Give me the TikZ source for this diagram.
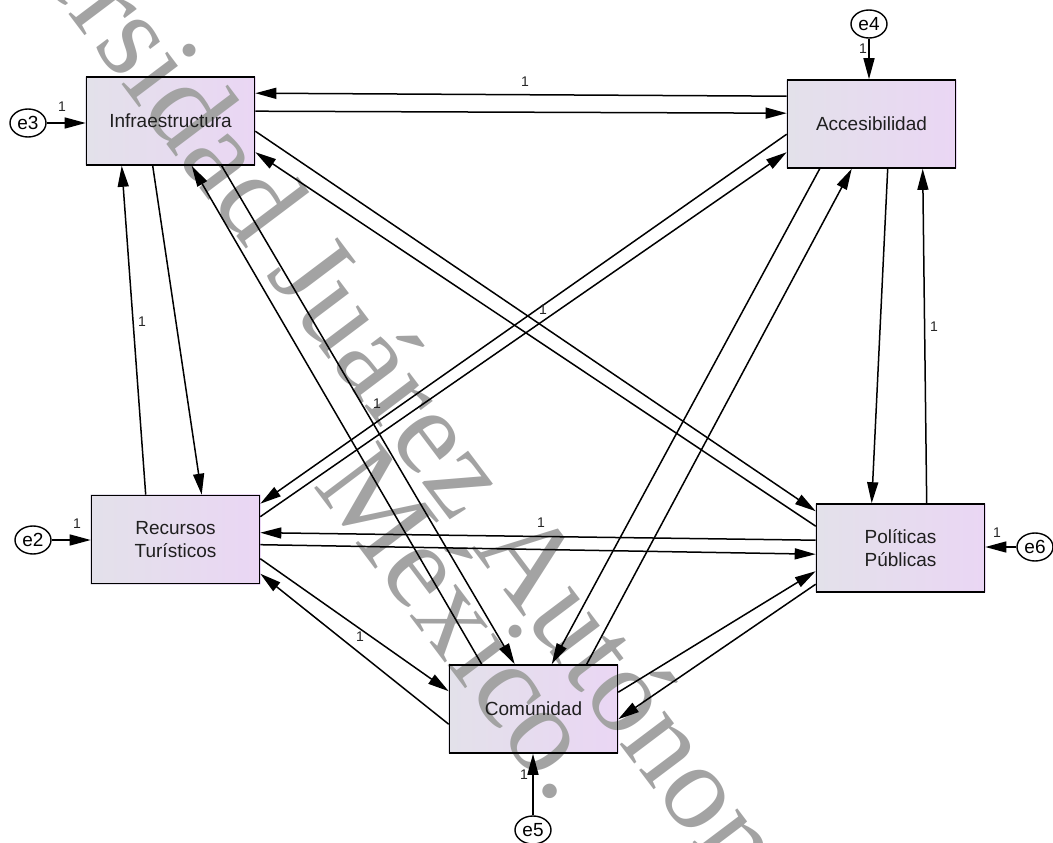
\documentclass[tikz,border=0pt]{standalone}
\usepackage{fontspec}
\setmainfont{Liberation Sans}
\newfontfamily\wmfont{Liberation Serif}
\usetikzlibrary{arrows.meta,calc,shapes.geometric}
\definecolor{boxL}{HTML}{E3E1EA}
\definecolor{boxR}{HTML}{EAD6F4}
\definecolor{wmgray}{gray}{0.64}
\pgfdeclarelayer{bg}
\pgfdeclarelayer{wmk}
\pgfsetlayers{bg,wmk,main}
\begin{document}
\begin{tikzpicture}[x=1pt,y=-1pt,
  box/.style={draw=black, line width=1.6pt,
    minimum width=168pt, minimum height=88pt, inner sep=0pt, align=center,
    font=\fontsize{19}{23}\selectfont, text=black!88},
  boxfill/.style={left color=boxL, right color=boxR},
  err/.style={draw=black, line width=1.4pt, ellipse, fill=white,
    minimum width=36pt, minimum height=28pt, inner sep=0pt,
    font=\fontsize{19}{22}\selectfont},
  conn/.style={line width=1.5pt, -{Triangle[length=21pt,width=11pt]}},
  one/.style={font=\fontsize{14}{16}\selectfont, inner sep=0pt, text=black!85},
  wm/.style={font=\wmfont\fontsize{122}{140}\selectfont, text=wmgray,
    inner sep=0pt, rotate=-53}
]
\useasboundingbox (0,0) rectangle (1053,843);

% boxes
\node[box] (inf) at (170.5,121) {Infraestructura};
\node[box] (acc) at (871.5,124) {Accesibilidad};
\node[box] (rec) at (175.5,539.5) {Recursos\\Turísticos};
\node[box] (pol) at (900.5,548) {Políticas\\Públicas};
\node[box] (com) at (533.5,709) {Comunidad};

\begin{pgfonlayer}{bg}
\foreach \n in {inf,acc,rec,pol,com}
  \shade[boxfill] (\n.north west) rectangle (\n.south east);
\end{pgfonlayer}

% watermark (under the lines and texts, above the box fills)
\begin{pgfonlayer}{wmk}
\begin{scope}
\clip (0,0) rectangle (1053,843);
\node[wm, anchor=base west] (wm1) at (-112,-226) {Universidad Juárez Autónoma de Tabasco.};
\node[wm, anchor=base west] (wm2) at (312,485) {México.};
\end{scope}
\end{pgfonlayer}

% error terms
\node[err] (e3) at (28,123) {e3};
\node[err] (e4) at (869,24) {e4};
\node[err] (e2) at (33,540) {e2};
\node[err] (e6) at (1035,547) {e6};
\node[err] (e5) at (533,830) {e5};

\draw[conn] (e3.east) -- (e3.east -| inf.west);
\draw[conn] (e4.south) -- (e4.south |- acc.north);
\draw[conn] (e2.east) -- (e2.east -| rec.west);
\draw[conn] (e6.west) -- (e6.west -| pol.east);
\draw[conn] (e5.north) -- (e5.north |- com.south);

% Infraestructura - Accesibilidad
\draw[conn] ($(acc.north west)+(0,17)$) -- ($(inf.north east)+(0,17)$);
\draw[conn] ($(inf.north east)+(0,35)$) -- ($(acc.north west)+(0,34)$);
% Infraestructura - Politicas
\draw[conn] ($(inf.north east)+(0,55)$) -- ($(pol.north west)+(0,8)$);
\draw[conn] ($(pol.north west)+(0,23)$) -- ($(inf.north east)+(0,76)$);
% Infraestructura - Recursos
\draw[conn] ($(rec.north west)+(55,0)$) -- ($(inf.south west)+(36,0)$);
\draw[conn] ($(inf.south west)+(67,0)$) -- ($(rec.north west)+(111,0)$);
% Infraestructura - Comunidad
\draw[conn] ($(com.north west)+(33,0)$) -- ($(inf.south west)+(106,0)$);
\draw[conn] ($(inf.south west)+(136,0)$) -- ($(com.north west)+(66,0)$);
% Accesibilidad - Recursos
\draw[conn] ($(acc.north west)+(0,55)$) -- ($(rec.north east)+(0,9)$);
\draw[conn] ($(rec.north east)+(0,22)$) -- ($(acc.north west)+(0,73)$);
% Accesibilidad - Comunidad
\draw[conn] ($(acc.south west)+(33,0)$) -- ($(com.north west)+(103,0)$);
\draw[conn] ($(com.north west)+(138,0)$) -- ($(acc.south west)+(65,0)$);
% Accesibilidad - Politicas
\draw[conn] ($(acc.south west)+(101,0)$) -- ($(pol.north west)+(56,0)$);
\draw[conn] ($(pol.north west)+(111,0)$) -- ($(acc.south west)+(136,0)$);
% Recursos - Politicas
\draw[conn] ($(pol.north west)+(0,37)$) -- ($(rec.north east)+(0,38)$);
\draw[conn] ($(rec.north east)+(0,50)$) -- ($(pol.north west)+(0,51)$);
% Recursos - Comunidad
\draw[conn] ($(rec.north east)+(0,64)$) -- ($(com.north west)+(0,27)$);
\draw[conn] ($(com.north west)+(0,60)$) -- ($(rec.north east)+(0,79)$);
% Comunidad - Politicas
\draw[conn] ($(com.north east)+(0,28)$) -- ($(pol.north west)+(0,68)$);
\draw[conn] ($(pol.north west)+(0,81)$) -- ($(com.north east)+(0,55)$);

% labels
\node[one] (l1) at (525,82) {1};
\node[one] (l2) at (142,322) {1};
\node[one] (l3) at (934,327) {1};
\node[one] (l4) at (543,310) {1};
\node[one] (l5) at (377,404) {1};
\node[one] (l6) at (541,523) {1};
\node[one] (l7) at (360,637) {1};
\node[one] (l8) at (62,107) {1};
\node[one] (l9) at (863,49) {1};
\node[one] (l10) at (77,524) {1};
\node[one] (l11) at (997,533) {1};
\node[one] (l12) at (524,775) {1};
\end{tikzpicture}
\end{document}
